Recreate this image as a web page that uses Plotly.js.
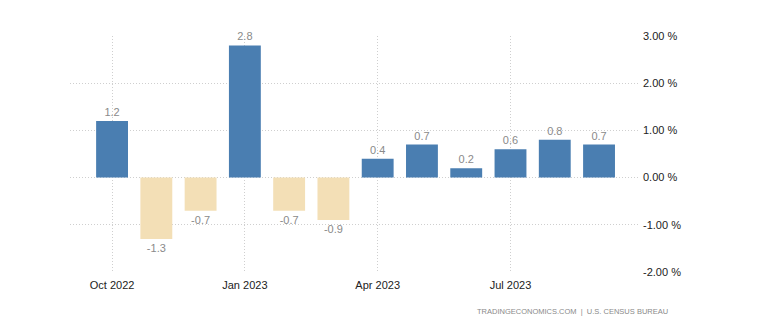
<!DOCTYPE html>
<html>
<head>
<meta charset="utf-8">
<script src="https://cdn.plot.ly/plotly-3.0.1.min.js"></script>
<style>html,body{margin:0;padding:0;background:#fff;}#chart{width:759px;height:334px;}</style>
</head>
<body>
<div id="chart"></div>
<script>
const months = ["Oct 2022","Nov 2022","Dec 2022","Jan 2023","Feb 2023","Mar 2023","Apr 2023","May 2023","Jun 2023","Jul 2023","Aug 2023","Sep 2023"];
const values = [1.2, -1.3, -0.7, 2.8, -0.7, -0.9, 0.4, 0.7, 0.2, 0.6, 0.8, 0.7];
const xTickLabels = ["Oct 2022","Jan 2023","Apr 2023","Jul 2023"];
const yTicks = [-2, -1, 0, 1, 2, 3];
const yTickLabels = ["-2.00 %","-1.00 %","0.00 %","1.00 %","2.00 %","3.00 %"];

const colors = values.map(v => v >= 0 ? "#4a7eb1" : "#f3dfb6");

const trace = {
  type: "bar",
  x: months,
  y: values,
  marker: {color: colors, line: {width: 0}},
  text: values.map(v => v.toFixed(1)),
  textposition: "outside",
  cliponaxis: false,
  textfont: {family: "Liberation Sans, Arial, sans-serif", size: 11, color: "#8a8a8a"},
  hoverinfo: "none"
};

const layout = {
  width: 759, height: 334,
  margin: {l: 70, r: 121, t: 36, b: 62},
  paper_bgcolor: "#fff", plot_bgcolor: "#fff",
  bargap: 0.28,
  showlegend: false,
  font: {family: "Liberation Sans, Arial, sans-serif", size: 11, color: "#333"},
  xaxis: {
    type: "category",
    range: [-0.95, 11.88],
    tickvals: xTickLabels,
    ticktext: xTickLabels,
    showgrid: true, gridcolor: "#cfcfcf", griddash: "1px,2px", gridwidth: 1,
    ticks: "", showline: false, zeroline: false,
    ticklabelstandoff: 5,
    tickfont: {size: 11, color: "#222"}
  },
  yaxis: {
    side: "right",
    range: [-2, 3],
    tickvals: yTicks,
    ticktext: yTickLabels,
    showgrid: true, gridcolor: "#cfcfcf", griddash: "1px,2px", gridwidth: 1,
    zeroline: false, showline: false,
    ticks: "", ticklabelstandoff: 4,
    tickfont: {size: 11, color: "#222"}
  },
  annotations: [{
    xref: "paper", yref: "paper",
    x: 1.056, y: -0.14,
    xanchor: "right", yanchor: "top",
    showarrow: false,
    text: "TRADINGECONOMICS.COM  |  U.S. CENSUS BUREAU",
    font: {size: 7.5, color: "#8a8a8a", family: "Liberation Sans, Arial, sans-serif"}
  }]
};

Plotly.newPlot("chart", [trace], layout, {displayModeBar: false, staticPlot: true});
</script>
</body>
</html>
